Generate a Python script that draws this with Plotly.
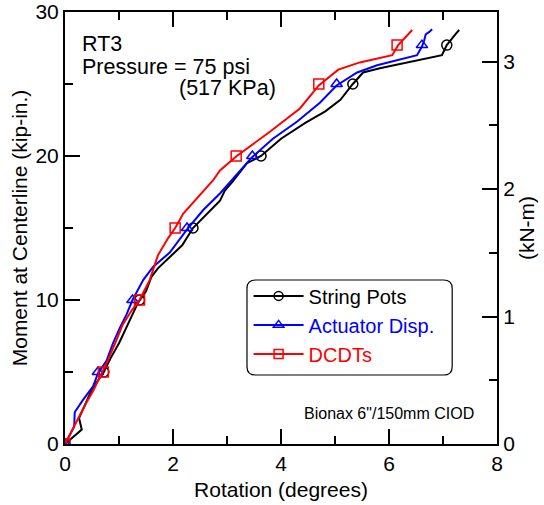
import plotly.graph_objects as go

# ---- data (rotation in degrees, moment in kip-in.) ----
black_rot = [0, 0.31, 0.26, 0.35, 0.5, 0.72, 0.85, 1.0, 1.2, 1.35, 1.5, 1.6, 1.72, 1.91, 2.17, 2.37, 2.63, 2.87, 2.96, 3.10, 3.37, 3.63, 4.0, 4.45, 4.82, 5.1, 5.33, 5.52, 5.83, 6.98, 7.07, 7.17, 7.24, 7.3]
black_mom = [0, 1.0, 1.8, 2.6, 3.8, 5.0, 6.0, 7.0, 8.6, 9.8, 10.6, 11.6, 12.2, 12.9, 13.8, 15.0, 16.0, 16.9, 17.6, 18.2, 19.5, 20.0, 21.2, 22.3, 23.1, 23.9, 25.0, 25.8, 26.1, 27.0, 27.7, 28.2, 28.5, 28.75]
black_mark_rot = [0, 0.72, 1.38, 2.37, 3.63, 5.33, 7.07]
black_mark_mom = [0, 5.0, 10.0, 15.0, 20.0, 25.0, 27.7]

blue_rot = [0, 0.17, 0.18, 0.33, 0.52, 0.61, 0.77, 0.89, 1.02, 1.14, 1.25, 1.45, 1.63, 1.94, 2.26, 2.56, 2.87, 3.06, 3.46, 3.85, 4.3, 4.72, 5.03, 5.41, 5.78, 6.52, 6.61, 6.65, 6.68, 6.74, 6.8]
blue_mom = [0, 1.2, 2.2, 3.05, 4.0, 4.9, 5.8, 7.0, 8.1, 9.0, 10.0, 11.4, 12.3, 13.3, 14.9, 16.25, 17.4, 18.2, 19.9, 21.2, 22.4, 23.7, 24.9, 25.8, 26.3, 27.0, 27.6, 28.0, 28.45, 28.6, 28.8]
blue_mark_rot = [0, 0.61, 1.25, 2.26, 3.47, 5.03, 6.61]
blue_mark_mom = [0, 5.0, 10.0, 15.0, 20.0, 25.0, 27.7]

red_rot = [0, 0.12, 0.24, 0.4, 0.53, 0.70, 0.78, 0.93, 1.07, 1.24, 1.38, 1.57, 1.72, 1.91, 2.04, 2.19, 2.41, 2.74, 2.87, 3.18, 3.8, 4.35, 4.70, 5.06, 5.46, 6.06, 6.17, 6.43]
red_mom = [0, 0.9, 1.8, 2.9, 3.75, 5.0, 5.7, 7.0, 8.3, 9.3, 10.0, 11.4, 13.1, 14.3, 15.0, 16.0, 16.9, 18.3, 19.0, 20.0, 21.7, 23.3, 24.9, 26.0, 26.5, 27.0, 27.7, 28.75]
red_mark_rot = [0, 0.71, 1.38, 2.04, 3.17, 4.70, 6.15]
red_mark_mom = [0, 5.0, 10.0, 15.0, 20.0, 25.0, 27.7]

series_names = ["String Pots", "Actuator Disp.", "DCDTs"]
series_colors = ["black", "blue", "red"]
series_symbols = ["circle-open", "triangle-up-open", "square-open"]

x_ticks = [0, 2, 4, 6, 8]
y_ticks = [0, 10, 20, 30]
y2_ticks = [0, 1, 2, 3]
KIPIN_TO_KNM = 0.11298

FONT = "Liberation Sans, Arial, sans-serif"
FS = 21

fig = go.Figure()
curves = [
    (black_rot, black_mom, black_mark_rot, black_mark_mom),
    (blue_rot, blue_mom, blue_mark_rot, blue_mark_mom),
    (red_rot, red_mom, red_mark_rot, red_mark_mom),
]
for (xr, ym, mx, my), name, col, sym in zip(curves, series_names, series_colors, series_symbols):
    fig.add_trace(go.Scatter(x=xr, y=ym, mode="lines", line=dict(color=col, width=2),
                             showlegend=False, hoverinfo="skip"))
    fig.add_trace(go.Scatter(x=mx, y=my, mode="markers",
                             marker=dict(symbol=sym, size=10, color=col, line=dict(color=col, width=1.5)),
                             showlegend=False))
for name, col, sym in zip(series_names, series_colors, series_symbols):
    fig.add_trace(go.Scatter(x=[None], y=[None], mode="lines+markers",
                             name=f"<span style='color:{col}'>{name}</span>",
                             line=dict(color=col, width=2),
                             marker=dict(symbol=sym, size=9, color=col, line=dict(color=col, width=1.5))))

# invisible trace for right axis
fig.add_trace(go.Scatter(x=[None], y=[None], yaxis="y2", showlegend=False))

axis_common = dict(showline=True, linecolor="black", linewidth=2, ticks="inside",
                   tickcolor="black", tickwidth=2, ticklen=15, showgrid=False, zeroline=False,
                   automargin=False,
                   tickfont=dict(size=FS, color="black", family=FONT))

fig.update_layout(
    width=544, height=505,
    margin=dict(l=65, r=47, t=12, b=61),
    paper_bgcolor="white", plot_bgcolor="white",
    font=dict(family=FONT, color="black"),
    xaxis=dict(range=[0, 8], tickvals=x_ticks, mirror="ticks",
               minor=dict(dtick=1, ticks="inside", ticklen=8, tickwidth=2, tickcolor="black"),
               title=dict(text="Rotation (degrees)", font=dict(size=FS), standoff=8),
               **axis_common),
    yaxis=dict(range=[0, 30], tickvals=y_ticks,
               minor=dict(dtick=5, ticks="inside", ticklen=8, tickwidth=2, tickcolor="black"),
               title=dict(text="Moment at Centerline (kip-in.)", font=dict(size=FS), standoff=2),
               **axis_common),
    yaxis2=dict(range=[0, 30 * KIPIN_TO_KNM], tickvals=y2_ticks, overlaying="y", side="right",
                minor=dict(dtick=0.5, ticks="inside", ticklen=8, tickwidth=2, tickcolor="black"),
                title=dict(text="(kN-m)", font=dict(size=FS), standoff=3),
                **axis_common),
    legend=dict(x=0.425, y=0.388, xanchor="left", yanchor="top", bgcolor="rgba(0,0,0,0)",
                font=dict(size=20, family=FONT), tracegroupgap=0, itemwidth=50),
    annotations=[
        dict(text="RT3", x=0.035, y=0.925, xref="paper", yref="paper", xanchor="left",
             yanchor="middle", showarrow=False, font=dict(size=21.5)),
        dict(text="Pressure = 75 psi", x=0.035, y=0.872, xref="paper", yref="paper", xanchor="left",
             yanchor="middle", showarrow=False, font=dict(size=21.5)),
        dict(text="(517 KPa)", x=0.26, y=0.823, xref="paper", yref="paper", xanchor="left",
             yanchor="middle", showarrow=False, font=dict(size=21.5)),
        dict(text="Bionax 6\"/150mm CIOD", x=0.952, y=0.07, xref="paper", yref="paper", xanchor="right",
             yanchor="middle", showarrow=False, font=dict(size=16)),
    ],
)

# rounded legend box (data coords of x / y axes)
x0, x1, y0, y1 = 3.37, 7.17, 4.79, 11.39
rx, ry = 0.16, 0.58
path = (f"M {x0+rx},{y1} L {x1-rx},{y1} Q {x1},{y1} {x1},{y1-ry} L {x1},{y0+ry} "
        f"Q {x1},{y0} {x1-rx},{y0} L {x0+rx},{y0} Q {x0},{y0} {x0},{y0+ry} "
        f"L {x0},{y1-ry} Q {x0},{y1} {x0+rx},{y1} Z")
fig.add_shape(type="path", path=path, xref="x", yref="y", line=dict(color="black", width=1.2),
              fillcolor="white", layer="below")

fig.write_html("out.html", config={"displayModeBar": False},
               post_script="document.body.style.margin='0';document.body.style.overflow='hidden';")
